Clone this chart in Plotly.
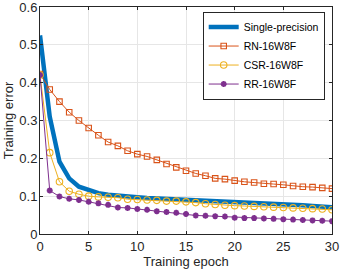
import plotly.graph_objects as go

epochs = list(range(31))
single = [0.525, 0.31, 0.191, 0.147, 0.125, 0.115, 0.108, 0.104, 0.101, 0.099, 0.097,
          0.095, 0.094, 0.092, 0.091, 0.089, 0.088, 0.087, 0.086, 0.085, 0.084,
          0.083, 0.082, 0.081, 0.080, 0.078, 0.077, 0.076, 0.074, 0.072, 0.071]
rn = [0.423, 0.382, 0.350, 0.322, 0.300, 0.280, 0.261, 0.243, 0.233, 0.220, 0.211,
      0.205, 0.196, 0.185, 0.176, 0.167, 0.160, 0.154, 0.147, 0.145, 0.141,
      0.138, 0.136, 0.133, 0.132, 0.130, 0.127, 0.125, 0.124, 0.122, 0.120]
csr = [0.420, 0.215, 0.138, 0.113, 0.105, 0.100, 0.098, 0.097, 0.096, 0.092, 0.091,
       0.090, 0.089, 0.087, 0.087, 0.085, 0.083, 0.080, 0.078, 0.076, 0.075,
       0.074, 0.073, 0.072, 0.071, 0.070, 0.069, 0.068, 0.067, 0.066, 0.064]
rr = [0.420, 0.115, 0.099, 0.093, 0.090, 0.085, 0.081, 0.077, 0.070, 0.069, 0.066,
      0.064, 0.060, 0.058, 0.056, 0.053, 0.049, 0.048, 0.047, 0.046, 0.043,
      0.042, 0.042, 0.041, 0.040, 0.039, 0.038, 0.037, 0.036, 0.035, 0.034]
names = ["Single-precision", "RN-16W8F", "CSR-16W8F", "RR-16W8F"]
x_ticks = [0, 5, 10, 15, 20, 25, 30]
y_ticks = [0, 0.1, 0.2, 0.3, 0.4, 0.5, 0.6]

FONT = "Liberation Sans, Arial"

fig = go.Figure()
fig.add_trace(go.Scatter(x=epochs, y=single, name=names[0], mode="lines",
                         line=dict(color="#0072BD", width=4.5)))
fig.add_trace(go.Scatter(x=epochs, y=rn, name=names[1], mode="lines+markers",
                         line=dict(color="#D95319", width=1),
                         marker=dict(symbol="square-open", size=5.5, color="#D95319",
                                     line=dict(width=1.1))))
fig.add_trace(go.Scatter(x=epochs, y=csr, name=names[2], mode="lines+markers",
                         line=dict(color="#EDB120", width=1),
                         marker=dict(symbol="circle-open", size=6.5, color="#EDB120",
                                     line=dict(width=1.1))))
fig.add_trace(go.Scatter(x=epochs, y=rr, name=names[3], mode="lines+markers",
                         line=dict(color="#7E2F8E", width=1),
                         marker=dict(symbol="asterisk-open", size=5, color="#7E2F8E",
                                     line=dict(width=1.8, color="#7E2F8E"))))

axis_common = dict(showline=True, linecolor="#262626", linewidth=1, mirror="ticks",
                   ticks="inside", ticklen=3, tickcolor="#262626", automargin=False,
                   ticklabeloverflow="allow",
                   showgrid=True, gridcolor="#E6E6E6", gridwidth=1, zeroline=False,
                   tickfont=dict(family=FONT, size=13, color="#262626"),
                   title_font=dict(family=FONT, size=13, color="#262626"))

fig.update_layout(
    width=340, height=271,
    margin=dict(l=40, r=8, t=7, b=37),
    paper_bgcolor="white", plot_bgcolor="white",
    font=dict(family=FONT, color="#262626"),
    xaxis=dict(range=[0, 30], tickvals=x_ticks,
               title=dict(text="Training epoch", standoff=4), **axis_common),
    yaxis=dict(range=[0, 0.6], tickvals=y_ticks, ticktext=[str(v) for v in y_ticks],
               ticklabelstandoff=-1,
               title=dict(text="Training error", standoff=2), **axis_common),
    legend=dict(x=0.975, y=0.98, xanchor="right", yanchor="top",
                bgcolor="white", bordercolor="#262626", borderwidth=1,
                font=dict(family=FONT, size=10.5, color="#000000"),
                tracegroupgap=0, itemwidth=30),
    showlegend=True,
)

fig.write_html("out.html", config={"displayModeBar": False},
               post_script="document.body.style.margin='0';")
